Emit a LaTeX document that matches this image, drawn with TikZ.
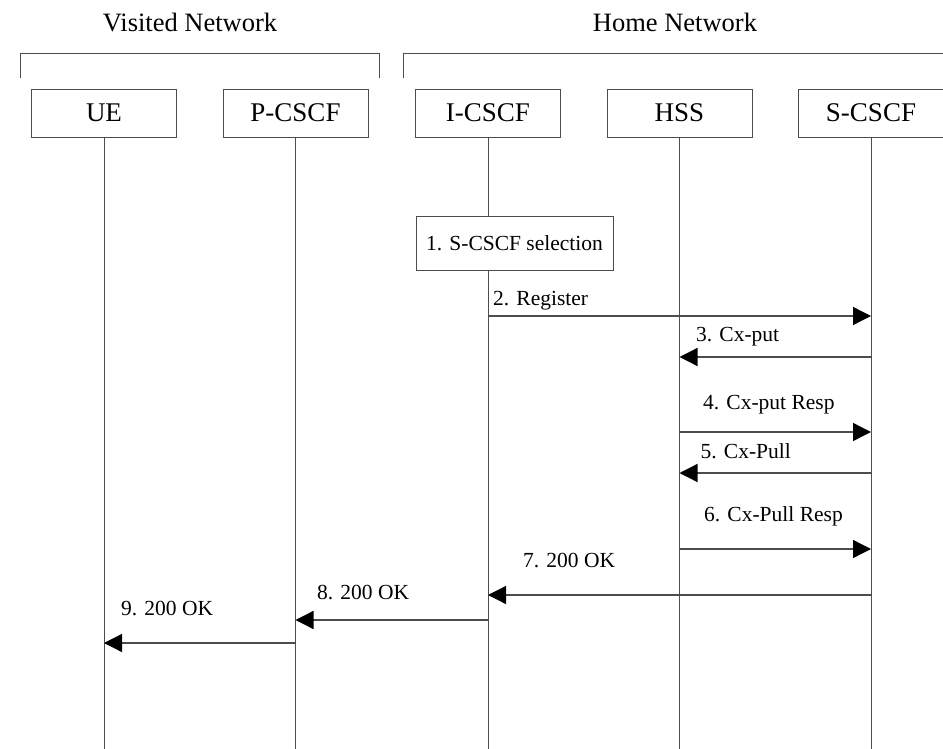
\documentclass[tikz,border=0pt]{standalone}
\usepackage{fontspec}
\setmainfont{Liberation Serif}
\usetikzlibrary{arrows.meta}

\begin{document}
\begin{tikzpicture}[x=1pt, y=-1pt,
                    entity/.style={draw=black!70, line width=0.9pt, fill=white,
                                   minimum width=145pt, minimum height=48pt,
                                   inner sep=0pt, font=\fontsize{27}{30}\selectfont},
                    stepbox/.style={draw=black!70, line width=0.9pt, fill=white,
                                    minimum width=197pt, minimum height=54pt,
                                    inner sep=0pt, font=\fontsize{21.5}{24}\selectfont},
                    head/.style={anchor=base, inner sep=0pt,
                                 font=\fontsize{26.5}{30}\selectfont},
                    msgtext/.style={anchor=base west, inner sep=0pt,
                                    font=\fontsize{21.5}{24}\selectfont},
                    life/.style={draw=black!70, line width=0.9pt},
                    msg/.style={draw=black!70, line width=1.3pt,
                                -{Triangle[length=18pt, width=18pt, black]}}]
                      \useasboundingbox (0,0) rectangle (943,749);

                      % network headings and brackets
                      \node[head] (visited) at (190, 32) {Visited Network};
                      \node[head] (home) at (675, 32) {Home Network};
                      \draw[life] (20,78) -- (20,53) -- (379,53) -- (379,78);
                      \draw[life] (403,78) -- (403,53) -- (945,53);

                      \node[entity] (ue) at (104, 113) {UE};
                      \node[entity] (pcscf) at (295.5, 113) {P-CSCF};
                      \node[entity] (icscf) at (488, 113) {I-CSCF};
                      \node[entity] (hss) at (679.5, 113) {HSS};
                      \node[entity] (scscf) at (871, 113) {S-CSCF};

                      \foreach \i in {ue, pcscf, icscf, hss, scscf} {
                              \coordinate (\i-end) at (\i.south |- 0,749);
                              \draw[life] (\i.south) -- (\i-end);
                          }

                      \node[stepbox] (sel) at (514.5, 243.5) {1. S-CSCF selection};

                      \foreach \i/\j/\y in {icscf/scscf/316, scscf/hss/357,
                                            hss/scscf/432, scscf/hss/473,
                                            hss/scscf/549, scscf/icscf/595,
                                            icscf/pcscf/620, pcscf/ue/643} {
                              \draw[msg] (\i |- 0,\y) -- (\j |- 0,\y);
                          }

                      \node[msgtext] (reg) at (493, 305) {2. Register};
                      \node[msgtext] (put) at (696, 341) {3. Cx-put};
                      \node[msgtext] (putresp) at (703, 409) {4. Cx-put Resp};
                      \node[msgtext] (pull) at (700.5, 458.5) {5. Cx-Pull};
                      \node[msgtext] (pullresp) at (704, 521.5) {6. Cx-Pull Resp};
                      \node[msgtext] (ok7) at (523, 567) {7. 200 OK};
                      \node[msgtext] (ok8) at (317, 599) {8. 200 OK};
                      \node[msgtext] (ok9) at (121, 615) {9. 200 OK};
                  \end{tikzpicture}
\end{document}
